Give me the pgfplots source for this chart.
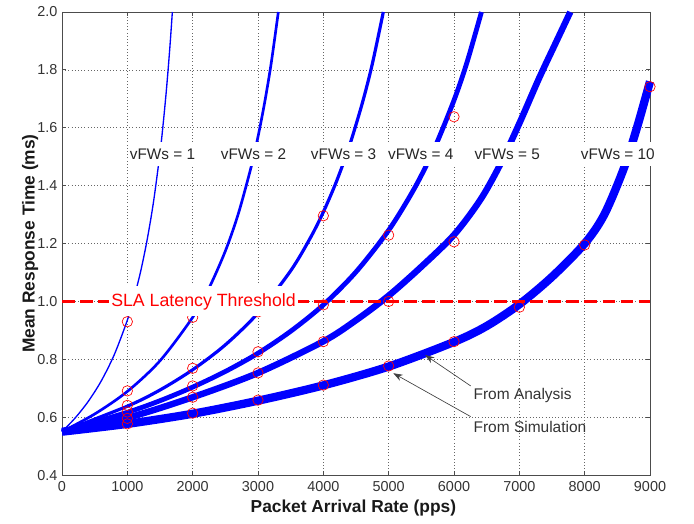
\documentclass[border=0pt]{standalone}
\usepackage{fontspec}
\setmainfont{Liberation Sans}
\usepackage{pgfplots}
\pgfplotsset{compat=1.18}
\usetikzlibrary{arrows.meta}

\begin{document}
\begin{tikzpicture}
\begin{axis}[
  scale only axis,
  width=440.6pt, height=347pt,
  xmin=0, xmax=9000, ymin=0.4, ymax=2.0,
  clip=false,
  xtick={0,1000,2000,3000,4000,5000,6000,7000,8000,9000},
  ytick={0.4,0.6,0.8,1.0,1.2,1.4,1.6,1.8,2.0},
  scaled ticks=false,
  /pgf/number format/assume math mode=true,
  xticklabel style={/pgf/number format/1000 sep={}, yshift=-1.4pt},
  yticklabel style={/pgf/number format/fixed, /pgf/number format/fixed zerofill,
    /pgf/number format/precision=1},
  ticklabel style={font=\fontsize{10.8}{12}\selectfont, text=black!80},
  tick align=inside, tick pos=both, major tick length=3pt,
  tick style={black!70, line width=0.6pt},
  axis line style={black!70, line width=0.6pt},
  grid=major,
  major grid style={dotted, black!60, line width=0.5pt},
  xlabel={Packet Arrival Rate (pps)},
  ylabel={Mean Response Time (ms)},
  label style={font=\fontsize{13}{15}\selectfont\bfseries, text=black!90},
  xlabel style={at={(axis description cs:0.4956,-0.0713)}, anchor=center},
  ylabel style={at={(axis description cs:-0.0544,0.5)}, anchor=center},
]
% analysis curves
\addplot[blue, line width=1pt, smooth] coordinates {
  (0,0.55) (200,0.597) (400,0.654) (600,0.725) (800,0.816) (1000,0.935)
  (1100,1.011) (1200,1.100) (1300,1.209) (1400,1.343) (1500,1.513)
  (1550,1.617) (1600,1.736) (1650,1.875) (1689,2.0)};
\addplot[blue, line width=2pt, smooth] coordinates {
  (0,0.55) (500,0.611) (1000,0.689) (1500,0.795) (2000,0.945) (2250,1.046)
  (2500,1.174) (2700,1.304) (2900,1.469) (3000,1.569) (3100,1.685)
  (3200,1.820) (3311,2.0)};
\addplot[blue, line width=2.4pt, smooth] coordinates {
  (0,0.55) (1000,0.638) (1500,0.694) (2000,0.764) (2500,0.850) (3000,0.960)
  (3500,1.106) (3800,1.219) (4000,1.309) (4200,1.414) (4400,1.538)
  (4600,1.688) (4750,1.821) (4918,2.0)};
\addplot[blue, line width=3.6pt, smooth] coordinates {
  (0,0.55) (1000,0.617) (1500,0.657) (2000,0.704) (2500,0.758) (3000,0.821)
  (3500,0.897) (4000,0.988) (4500,1.102) (5000,1.246) (5400,1.393)
  (5700,1.529) (6000,1.695) (6200,1.827) (6420,2.0)};
\addplot[blue, line width=4.8pt, smooth] coordinates {
  (0,0.55) (1000,0.598) (2000,0.669) (3000,0.753) (4000,0.862) (4500,0.935)
  (5000,1.02) (5500,1.12) (6000,1.23) (6400,1.35) (6700,1.47)
  (7000,1.615) (7300,1.77) (7550,1.89) (7780,2.0)};
\addplot[blue, line width=6.2pt, smooth] coordinates {
  (0,0.55) (1000,0.577) (2000,0.612) (3000,0.657) (4000,0.71) (5000,0.775)
  (6000,0.86) (6500,0.915) (7000,0.99) (7500,1.085) (8000,1.2)
  (8300,1.3) (8600,1.46) (8800,1.6) (9000,1.76)};
% SLA threshold
\addplot[red, line width=2.6pt, dash pattern=on 9.5pt off 4pt] coordinates {(0,1.0) (9000,1.0)};
% simulation points
\addplot[only marks, mark=o, mark size=3.9pt, mark options={red, line width=0.5pt}] coordinates {
  (1000,0.930) (1000,0.691) (1000,0.641) (1000,0.618) (1000,0.596) (1000,0.577)
  (2000,0.945) (2000,0.769) (2000,0.708) (2000,0.669) (2000,0.614)
  (3000,0.964) (3000,0.826) (3000,0.753) (3000,0.659)
  (4000,1.296) (4000,0.988) (4000,0.861) (4000,0.711)
  (5000,1.229) (5000,1.000) (5000,0.777)
  (6000,1.638) (6000,1.206) (6000,0.861)
  (7000,0.980) (8000,1.195) (9000,1.742)};
% anchor points for the text drawn on top
\coordinate (v1) at (axis cs:1538,1.509);
\coordinate (v2) at (axis cs:2931,1.509);
\coordinate (v3) at (axis cs:4310,1.509);
\coordinate (v4) at (axis cs:5492,1.509);
\coordinate (v5) at (axis cs:6814,1.509);
\coordinate (v10) at (axis cs:8508,1.509);
\coordinate (sla) at (axis cs:2166,1.0);
\coordinate (ta) at (axis cs:6296,0.674);
\coordinate (ts) at (axis cs:6296,0.567);
\coordinate (a0) at (axis cs:6256,0.708);
\coordinate (a1) at (axis cs:5557,0.815);
\coordinate (s0) at (axis cs:6256,0.602);
\coordinate (s1) at (axis cs:5071,0.752);
\end{axis}
\tikzset{lbl/.style={fill=white, inner xsep=1.5pt, inner ysep=5pt,
  font=\fontsize{11.5}{13}\selectfont, text=black!85}}
\node[lbl] at (v1) {vFWs = 1};
\node[lbl] at (v2) {vFWs = 2};
\node[lbl] at (v3) {vFWs = 3};
\node[lbl] at (v4) {vFWs = 4};
\node[lbl] at (v5) {vFWs = 5};
\node[lbl] at (v10) {vFWs = 10};
\node[fill=white, inner xsep=1.5pt, inner ysep=5pt, text=red,
  font=\fontsize{13.3}{15}\selectfont] at (sla) {SLA Latency Threshold};
\node[anchor=west, inner sep=0pt, font=\fontsize{11.6}{13}\selectfont, text=black!80]
  at (ta) {From Analysis};
\node[anchor=west, inner sep=0pt, font=\fontsize{11.6}{13}\selectfont, text=black!80]
  at (ts) {From Simulation};
\draw[black!75, line width=0.5pt, -{Stealth[length=7pt, width=5pt]}] (a0) -- (a1);
\draw[black!75, line width=0.5pt, -{Stealth[length=7pt, width=5pt]}] (s0) -- (s1);
\pgfresetboundingbox
\path ([xshift=-46.46pt,yshift=-35.97pt]current axis.south west)
  rectangle ([xshift=32.97pt,yshift=8.99pt]current axis.north east);
\end{tikzpicture}
\end{document}
